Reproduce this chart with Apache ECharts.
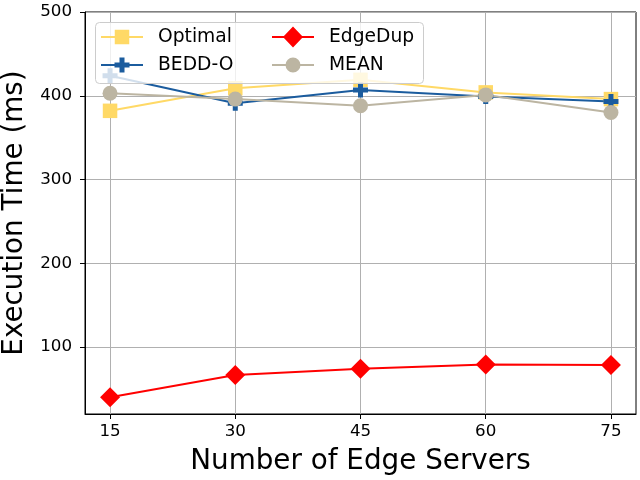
<!DOCTYPE html>
<html>
<head>
<meta charset="utf-8">
<script src="https://cdn.jsdelivr.net/npm/echarts@6/dist/echarts.min.js"></script>
<style>html,body{margin:0;padding:0;background:#fff}#c{width:640px;height:480px}</style>
</head>
<body>
<div id="c"></div>
<script>
const xValues = [15, 30, 45, 60, 75];
const xTicks = [15, 30, 45, 60, 75];
const yTicks = [100, 200, 300, 400, 500];
const optimal = [382, 409, 419, 404, 396];
const beddO = [424, 391, 407, 399, 393];
const edgeDup = [40, 66.5, 74, 79, 78.5];
const mean = [403, 396, 388, 401, 380];
const seriesNames = ['Optimal', 'BEDD-O', 'EdgeDup', 'MEAN'];

const FONT = 'DejaVu Sans';
const colors = {Optimal: '#FFD966', 'BEDD-O': '#1B5C9E', EdgeDup: '#FF0000', MEAN: '#BCB5A2'};
const plusPath = 'path://M2,0H4V2H6V4H4V6H2V4H0V2H2Z';
const lineRect = 'M0,9.5H42V11.5H0Z';
const icons = {
  'Optimal': 'path://M0,0M42,21' + lineRect + 'M13.75,3.25H28.25V17.75H13.75Z',
  'BEDD-O': 'path://M0,0M42,21' + lineRect + 'M18.5,3H23.5V8H28.5V13H23.5V18H18.5V13H13.5V8H18.5Z',
  'EdgeDup': 'path://' + lineRect + 'M21,0L31,10.5L21,21L11,10.5Z',
  'MEAN': 'path://M0,0M42,21' + lineRect + 'M13.5,10.5A7.5,7.5 0 1,1 28.5,10.5A7.5,7.5 0 1,1 13.5,10.5Z'
};

function mk(name, vals, symbol, size) {
  return {
    name: name, type: 'line',
    data: xValues.map((x, i) => [x, vals[i]]),
    symbol: symbol, symbolSize: size,
    itemStyle: {color: colors[name], borderWidth: 0},
    lineStyle: {color: colors[name], width: 2},
    emphasis: {disabled: true},
    animation: false
  };
}

function legend(names, left) {
  return {
    orient: 'vertical', left: left, top: 26.5, padding: 0,
    itemWidth: 42, itemHeight: 21, itemGap: 7, z: 10,
    selectedMode: false,
    data: names.map(n => ({name: n, icon: icons[n], itemStyle: {color: colors[n], borderWidth: 0}})),
    textStyle: {fontFamily: FONT, fontSize: 18.7, color: '#000', padding: [0, 0, 0, 10]}
  };
}

const chart = echarts.init(document.getElementById('c'), null, {renderer: 'canvas'});
chart.setOption({
  animation: false,
  textStyle: {fontFamily: FONT},
  grid: {left: 85, right: 4, top: 12, bottom: 66, show: true, borderColor: '#000', borderWidth: 1, backgroundColor: 'transparent', containLabel: false, outerBoundsMode: 'none'},
  xAxis: {
    type: 'value', min: 12, max: 78,
    name: 'Number of Edge Servers', nameLocation: 'middle', nameGap: 34,
    nameTextStyle: {fontFamily: FONT, fontSize: 27.8, color: '#000'},
    axisLine: {show: true, onZero: false, lineStyle: {color: '#000', width: 1}},
    axisTick: {show: true, length: 5, lineStyle: {color: '#000'}, customValues: xTicks},
    axisLabel: {fontFamily: FONT, fontSize: 16.7, color: '#000', margin: 9, customValues: xTicks},
    splitLine: {show: true, lineStyle: {color: '#b0b0b0', width: 1}}
  },
  yAxis: {
    type: 'value', min: 20, max: 500,
    name: 'Execution Time (ms)', nameLocation: 'middle', nameGap: 54,
    nameTextStyle: {fontFamily: FONT, fontSize: 27.8, color: '#000'},
    axisLine: {show: true, onZero: false, lineStyle: {color: '#000', width: 1}},
    axisTick: {show: true, length: 5, lineStyle: {color: '#000'}, customValues: yTicks},
    axisLabel: {fontFamily: FONT, fontSize: 16.7, color: '#000', margin: 13, customValues: yTicks},
    splitLine: {show: true, lineStyle: {color: '#b0b0b0', width: 1}}
  },
  legend: [legend(['Optimal', 'BEDD-O'], 101), legend(['EdgeDup', 'MEAN'], 272)],
  graphic: [{
    type: 'rect', z: 9, silent: true,
    shape: {x: 95.5, y: 22.5, width: 328, height: 61, r: 4},
    style: {fill: 'rgba(255,255,255,0.8)', stroke: '#cccccc', lineWidth: 1}
  }],
  series: [
    mk('Optimal', optimal, 'rect', 14.5),
    mk('BEDD-O', beddO, plusPath, 15),
    mk('EdgeDup', edgeDup, 'diamond', 20),
    mk('MEAN', mean, 'circle', 15)
  ]
});
</script>
</body>
</html>
